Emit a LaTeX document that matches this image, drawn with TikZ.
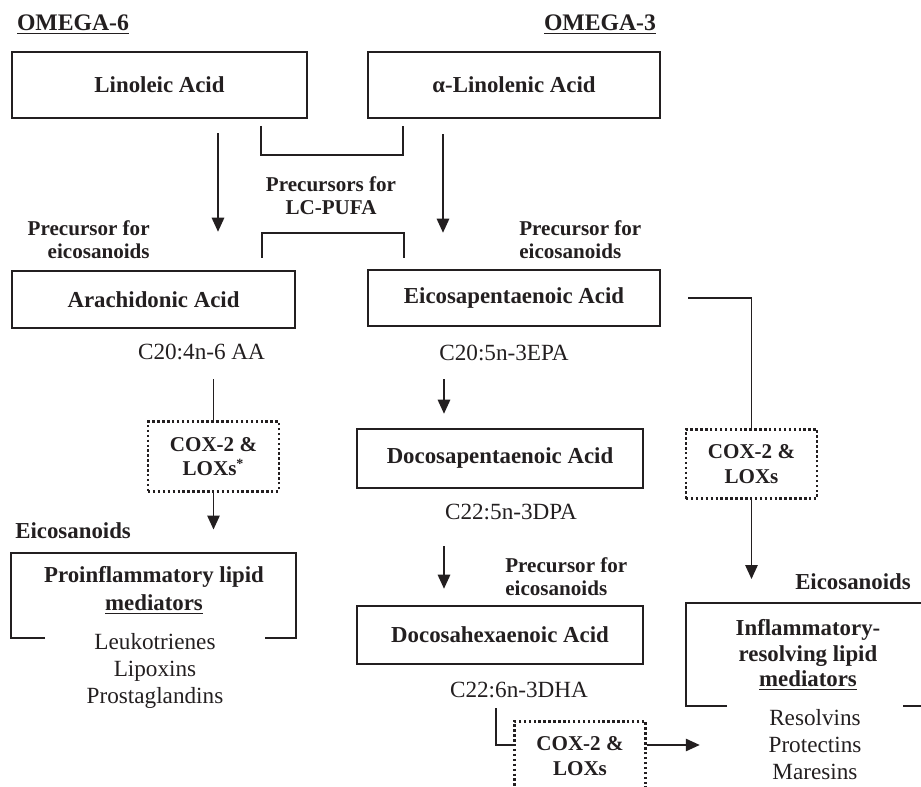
\documentclass[tikz,border=0pt]{standalone}
\usepackage{fontspec}
\setmainfont{Liberation Serif}
\usetikzlibrary{arrows.meta}
\definecolor{ink}{RGB}{35,31,32}

\begin{document}
\begin{tikzpicture}[x=0.02cm, y=-0.02cm, color=ink,
	acidbox/.style={draw, line width=1.4pt, inner sep=0pt, font=\fontsize{13}{15}\selectfont\bfseries},
	enzbox/.style={draw, line width=1.5pt, dash pattern=on 1.4pt off 1.4pt, inner sep=0pt, align=center,
		minimum width=2.62cm, minimum height=1.39cm, font=\fontsize{12}{14}\selectfont\bfseries},
	headlbl/.style={font=\fontsize{13.5}{15}\selectfont\bfseries, inner sep=0pt},
	smalllbl/.style={font=\fontsize{12}{13.2}\selectfont\bfseries, inner sep=0pt},
	biglbl/.style={font=\fontsize{13}{16}\selectfont\bfseries, inner sep=0pt},
	codelbl/.style={font=\fontsize{13.2}{15.2}\selectfont, inner sep=0pt},
	boxline/.style={line width=1.4pt},
	connline/.style={line width=1.1pt},
	arrowline/.style={line width=1.1pt, -{Triangle[length=8pt, width=7pt]}}]

% Frame.

	\useasboundingbox (0,0) rectangle (921,787);
	\clip (0,0) rectangle (921,787);

% Define coordinates.

	\coordinate (colAA) at (218,0);
	\coordinate (colALA) at (443,0);
	\coordinate (colMid) at (444,0);

% Headings.

	\node[headlbl] (omegaSix) at (73,25) {\underline{OMEGA-6}};
	\node[headlbl] (omegaThree) at (600,25) {\underline{OMEGA-3}};

% Fatty acid boxes.

	\node[acidbox, minimum width=5.9cm, minimum height=1.32cm] (linoleic) at (159.5,85) {Linoleic Acid};
	\node[acidbox, minimum width=5.84cm, minimum height=1.32cm] (alinolenic) at (514,85) {α-Linolenic Acid};
	\node[acidbox, minimum width=5.66cm, minimum height=1.14cm] (arachidonic) at (153.5,299.5) {Arachidonic Acid};
	\node[acidbox, minimum width=5.84cm, minimum height=1.12cm] (epa) at (514,298) {Eicosapentaenoic Acid};
	\node[acidbox, minimum width=5.72cm, minimum height=1.18cm] (dpa) at (500,458.5) {Docosapentaenoic Acid};
	\node[acidbox, minimum width=5.72cm, minimum height=1.16cm] (dha) at (500,635) {Docosahexaenoic Acid};

% Enzyme boxes.

	\node[enzbox] (coxAA) at (213.5,456.5) {COX-2 \&\\LOXs\textsuperscript{*}};
	\node[enzbox] (coxEPA) at (751.5,464) {COX-2 \&\\LOXs};
	\node[enzbox] (coxDHA) at (580,756) {COX-2 \&\\LOXs};

% Labels.

	\node[smalllbl, align=center] (lcpufa) at (331,196) {Precursors for\\LC-PUFA};
	\node[smalllbl, align=right, anchor=east] (precAA) at (150,240) {Precursor for\\eicosanoids};
	\node[smalllbl, align=left, anchor=west] (precEPA) at (519,240) {Precursor for\\eicosanoids};
	\node[smalllbl, align=left, anchor=west] (precDHA) at (505,577) {Precursor for\\eicosanoids};

	\node[codelbl] (aaCode) at (201.5,352) {C20:4n-6 AA};
	\node[codelbl] (epaCode) at (504,353) {C20:5n-3EPA};
	\node[codelbl] (dpaCode) at (511,512) {C22:5n-3DPA};
	\node[codelbl] (dhaCode) at (519,690) {C22:6n-3DHA};

	\node[biglbl, anchor=west] (eicoLeft) at (15,531) {Eicosanoids};
	\node[biglbl] (eicoRight) at (853,582) {Eicosanoids};

% Mediator groups.

	\node[biglbl, align=center] (proTitle) at (154,590) {Proinflammatory lipid\\\underline{mediators}};
	\node[codelbl, align=center] (proList) at (155,671) {Leukotrienes\\Lipoxins\\Prostaglandins};
	\node[biglbl, align=center, font=\fontsize{13}{14.6}\selectfont\bfseries] (infTitle) at (808,655) {Inflammatory-\\resolving lipid\\\underline{mediators}};
	\node[codelbl, align=center, font=\fontsize{13.2}{15.4}\selectfont] (infList) at (815,745) {Resolvins\\Protectins\\Maresins};

	\draw[boxline] (45,638) -- (11,638) -- (11,553) -- (296,553) -- (296,638) -- (265,638);
	\draw[boxline] (727,706) -- (686,706) -- (686,603) -- (940,603) -- (940,706) -- (903,706);

% Precursor brackets.

	\draw[connline] (261,126) -- (261,155) -- (403,155) -- (403,126);
	\draw[connline] (262,258) -- (262,233) -- (404,233) -- (404,258);

% Draw arrows.

	\draw[arrowline, shorten <=0.28cm, shorten >=0.76cm] (linoleic.south -| colAA) -- (arachidonic.north -| colAA);
	\draw[arrowline, shorten <=0.3cm, shorten >=0.72cm] (alinolenic.south -| colALA) -- (epa.north -| colALA);

	\draw[connline, shorten <=1.0cm] (arachidonic.south -| coxAA.north) -- (coxAA.north);
	\draw[arrowline] (coxAA.south) -- ++(0,37);

	\draw[connline] ([xshift=0.54cm]epa.east) -| (coxEPA.north);
	\draw[arrowline] (coxEPA.south) -- ++(0,79);

	\draw[arrowline, shorten <=1.04cm, shorten >=0.28cm] (epa.south -| colMid) -- (dpa.north -| colMid);
	\draw[arrowline, shorten <=1.14cm, shorten >=0.32cm] (dpa.south -| colMid) -- (dha.north -| colMid);

	\draw[connline, shorten <=0.86cm] ([xshift=-0.08cm]dha.south) |- ([yshift=0.22cm]coxDHA.west);
	\draw[arrowline] ([yshift=0.22cm]coxDHA.east) -- ++(53,0);

\end{tikzpicture}
\end{document}
